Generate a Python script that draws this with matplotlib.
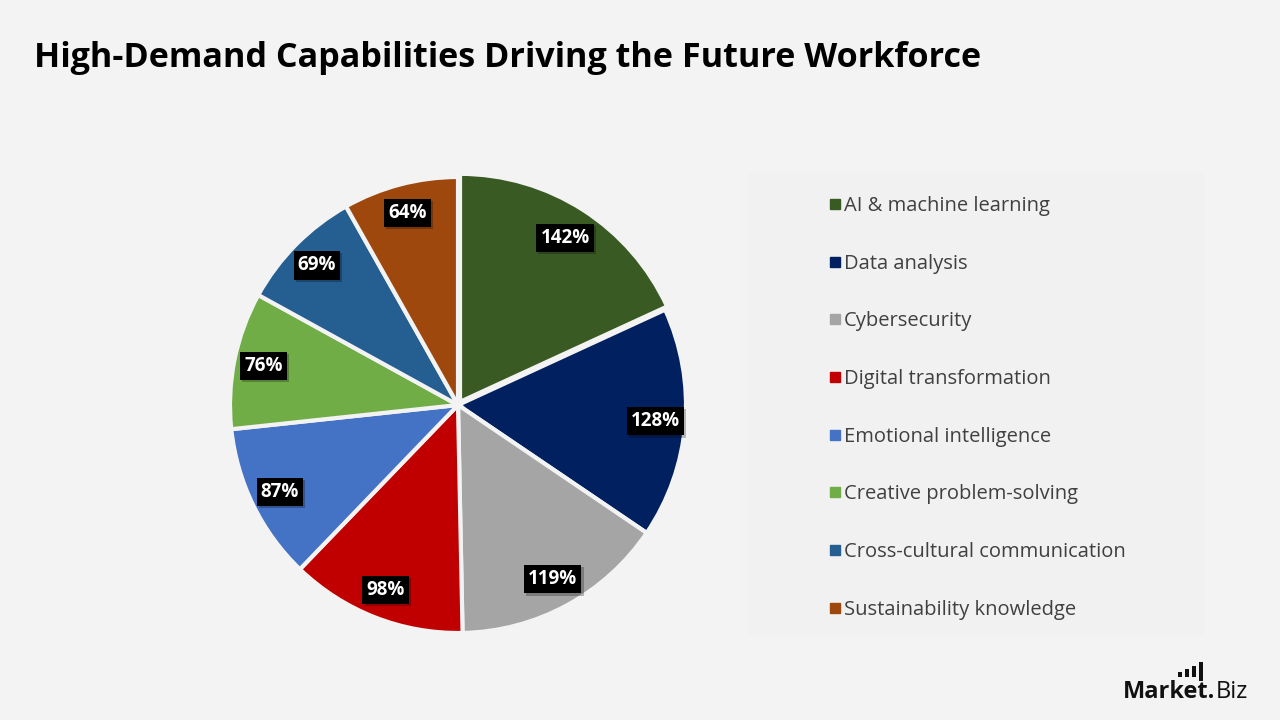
import numpy as np
import matplotlib.pyplot as plt
import matplotlib.patheffects as pe
from matplotlib.patches import Rectangle
from matplotlib.lines import Line2D

# data
skills = ['AI & machine learning', 'Data analysis', 'Cybersecurity',
          'Digital transformation', 'Emotional intelligence',
          'Creative problem-solving', 'Cross-cultural communication',
          'Sustainability knowledge']
values = [142, 128, 119, 98, 87, 76, 69, 64]
colors = ['#3a5a23', '#002060', '#a5a5a5', '#c00000', '#4472c4',
          '#70ad47', '#255e91', '#9e480e']

bg = '#f3f3f3'
plt.rcParams['font.family'] = ['Open Sans', 'DejaVu Sans']

fig = plt.figure(figsize=(12.8, 7.2), dpi=100)
fig.patch.set_facecolor(bg)

W, H = 1280., 720.
cx, cy, R = 458, 405, 228
half = 250
ax = fig.add_axes([(cx - half) / W, (H - cy - half) / H, 2 * half / W, 2 * half / H])

explode = [0.015] + [0] * (len(values) - 1)
wedges, texts = ax.pie(values, colors=colors, startangle=90, counterclock=False,
                       radius=R / half, explode=explode,
                       wedgeprops=dict(edgecolor=bg, linewidth=3))
ax.set_xlim(-1, 1)
ax.set_ylim(-1, 1)
ax.set_aspect('equal')
ax.axis('off')

# value labels in black boxes
tot = float(sum(values))
ang = 90.0
for v, w in zip(values, wedges):
    mid = ang - v / tot * 360 / 2
    ang -= v / tot * 360
    r = 0.87 * R / half
    t = ax.text(r * np.cos(np.radians(mid)), r * np.sin(np.radians(mid)), '%d%%' % v,
                ha='center', va='center', color='white', fontsize=13.5, fontweight='bold',
                bbox=dict(boxstyle='square,pad=0.22', facecolor='black', edgecolor='none'))
    t.get_bbox_patch().set_path_effects([pe.withSimplePatchShadow(offset=(1.5, -1.5), alpha=0.25),
                                         pe.Normal()])

# title
fig.text(34 / W, 1 - 58 / H, 'High-Demand Capabilities Driving the Future Workforce',
         fontsize=24.6, fontweight='bold', va='center', ha='left', color='black')

# legend background and legend
fig.patches.append(Rectangle((748 / W, 1 - 635 / H), (1205 - 748) / W, (635 - 172) / H,
                             transform=fig.transFigure, facecolor='#f1f1f1',
                             edgecolor='none', zorder=0))
handles = [Line2D([], [], marker='s', linestyle='none', markersize=7,
                  markerfacecolor=c, markeredgecolor=c) for c in colors]
leg = fig.legend(handles, skills, loc='upper left',
                 bbox_to_anchor=(820 / W, 1 - 186 / H), frameon=False,
                 fontsize=14.5, labelspacing=1.87, handlelength=0.5,
                 handletextpad=0.2, borderpad=0)
for t in leg.get_texts():
    t.set_color('#404040')

# logo
fig.text(1215 / W, 1 - 692 / H, 'Market.', fontsize=17, fontweight='bold',
         ha='right', va='center', color='#111111')
fig.text(1216 / W, 1 - 692 / H, 'Biz', fontsize=17, ha='left', va='center', color='#111111')
for bx, btop, bbot in [(1178, 672, 677), (1185, 669, 677), (1192, 666, 677), (1199, 662, 681)]:
    fig.patches.append(Rectangle((bx / W, 1 - bbot / H), 4 / W, (bbot - btop) / H,
                                 transform=fig.transFigure, facecolor='#111111',
                                 edgecolor='none'))

fig.savefig('out.png', dpi=100, facecolor=bg)
